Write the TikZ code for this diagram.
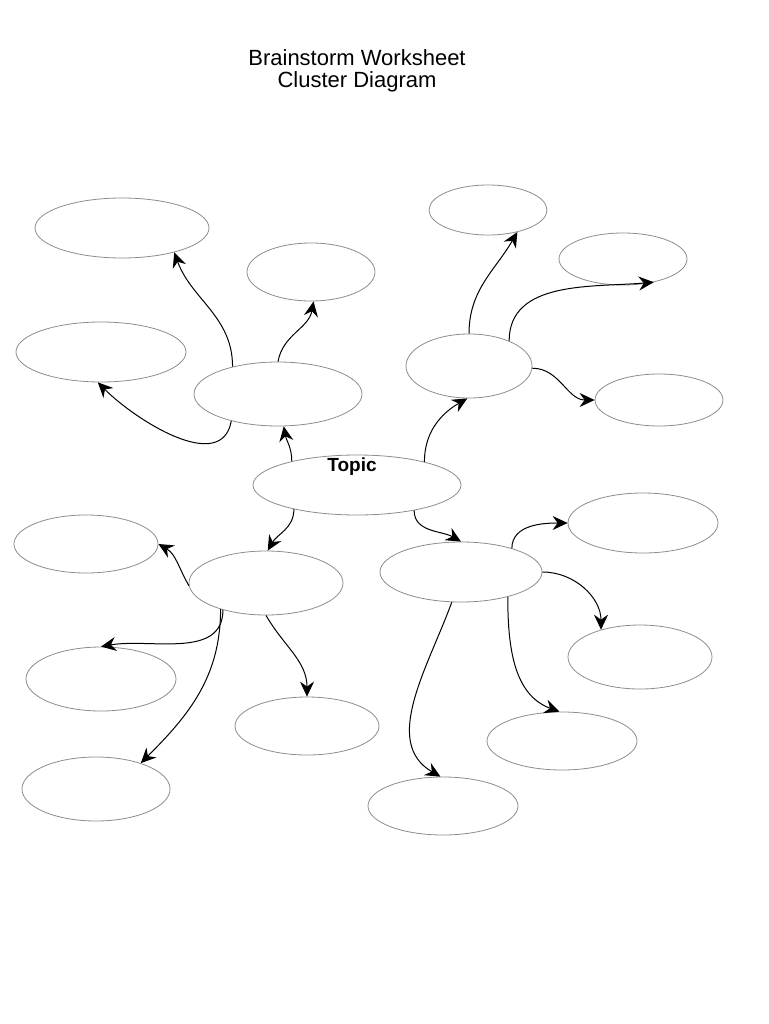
\documentclass[tikz,border=0pt]{standalone}
\usepackage{fontspec}
\setmainfont{Liberation Sans}
\usetikzlibrary{shapes.geometric,arrows.meta}
\begin{document}
\begin{tikzpicture}[x=1pt,y=-1pt,
  bub/.style={draw=black!45,line width=0.8pt,ellipse,inner sep=0pt},
  con/.style={draw=black,line width=1pt,-{Stealth[length=15pt,width=14pt,inset=5pt]}}]
\useasboundingbox (0,0) rectangle (768,1024);
\node[font=\fontsize{22}{22}\selectfont,align=center] (title) at (357,71) {Brainstorm Worksheet\\Cluster Diagram};
\newcommand\bub[5]{\node[bub,minimum width=#4pt,minimum height=#5pt] (#1) at (#2,#3) {};}
\bub{e1}{122}{228}{174}{60}
\bub{e2}{311}{272}{128}{58}
\bub{e3}{101}{352}{170}{60}
\bub{e4}{278}{394}{168}{64}
\bub{e5}{357}{485}{208}{60}
\bub{e6}{488}{210}{118}{50}
\bub{e7}{623}{259}{128}{52}
\bub{e8}{469}{366}{126}{64}
\bub{e9}{659}{400}{128}{52}
\bub{e10}{86}{544}{144}{58}
\bub{e11}{266}{583}{154}{64}
\bub{e12}{461}{572}{162}{60}
\bub{e13}{643}{523}{150}{60}
\bub{e14}{101}{679}{150}{64}
\bub{e15}{307}{726}{144}{58}
\bub{e16}{640}{657}{144}{64}
\bub{e17}{562}{741}{150}{58}
\bub{e18}{96}{789}{148}{64}
\bub{e19}{443}{806}{150}{58}
\node[font=\fontsize{19}{22}\selectfont\bfseries] (topic) at (352,467) {Topic};
\draw[con] (e5.160) to[out=90,in=-80] (e4.280);
\draw[con] (e4.149) to[out=90,in=-70] (e1.335);
\draw[con] (e4.90) to[out=80,in=-100] (e2.275);
\draw[con] (e4.210) to[out=-100,in=-45] (e3.264);
\draw[con] (e5.19) to[out=90,in=210] (e8.267);
\draw[con] (e8.90) to[out=90,in=-120] (e6.323);
\draw[con] (e8.32) to[out=90,in=185] (e7.323);
\draw[con] (e8.358) to[out=0,in=180] (e9.180);
\draw[con] (e5.201) to[out=-90,in=60] (e11.87);
\draw[con] (e5.336) to[out=-90,in=150] (e12.90);
\draw[con] (e11.182) to[out=120,in=-30] (e10.0);
\draw[con] (e11.212) to[out=-90,in=10] (e14.90);
\draw[con] (e11.210) to[out=-90,in=45] (e18.30);
\draw[con] (e11.270) to[out=-60,in=90] (e15.90);
\draw[con] (e12.25) to[out=90,in=180] (e13.180);
\draw[con] (e12.0) to[out=0,in=90] (e16.145);
\draw[con] (e12.332) to[out=-90,in=160] (e17.95);
\draw[con] (e12.253) to[out=-110,in=150] (e19.95);
\end{tikzpicture}
\end{document}
